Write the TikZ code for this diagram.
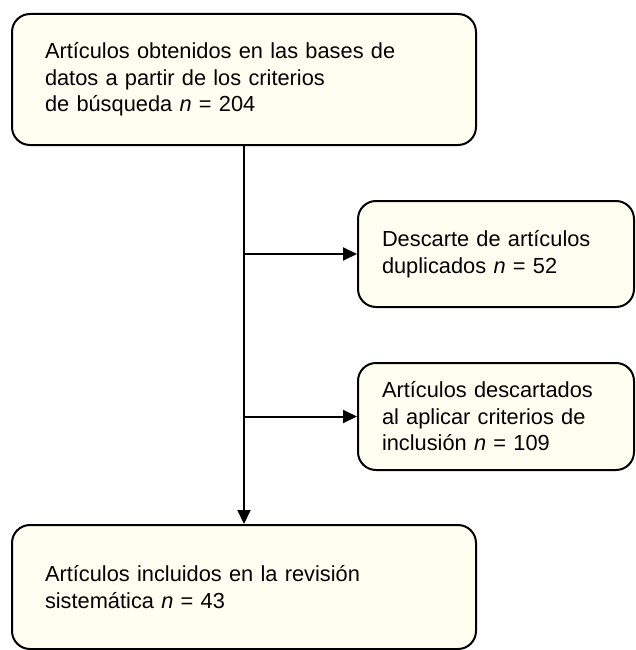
\documentclass[tikz,border=0pt]{standalone}
\usepackage{fontspec}
\setmainfont{Liberation Sans}
\usetikzlibrary{arrows.meta}
\definecolor{boxcream}{RGB}{255,255,241}

\begin{document}
\begin{tikzpicture}[x=1pt,y=-1pt,
  every node/.style={font=\fontsize{21.8}{26.5}\selectfont},
  >={Triangle[length=14pt,width=13pt]},
  wide/.style={draw,line width=2pt,rounded corners=18pt,fill=boxcream,text width=398pt,inner xsep=33pt,inner ysep=0pt,align=left},
  side/.style={draw,line width=2pt,rounded corners=18pt,fill=boxcream,text width=228pt,inner xsep=24pt,inner ysep=0pt,align=left}
]
\useasboundingbox (0,0) rectangle (635,650);
\node[wide,minimum height=131pt] (src) at (244,79.5) {Artículos obtenidos en las bases de\\datos a partir de los criterios\\de búsqueda \textit{n} = 204};
\node[side,minimum height=106pt] (dup) at (496,254) {Descarte de artículos\\duplicados \textit{n} = 52};
\node[side,minimum height=107pt] (exc) at (496,416.5) {Artículos descartados\\al aplicar criterios de\\inclusión \textit{n} = 109};
\node[wide,minimum height=124pt] (inc) at (244,587) {Artículos incluidos en la revisión\\sistemática \textit{n} = 43};

\coordinate (b1) at (src.south |- dup.west);
\coordinate (b2) at (src.south |- exc.west);
\draw[->,line width=2pt] (src) -- (inc);
\draw[->,line width=2pt] (b1) -- (dup);
\draw[->,line width=2pt] (b2) -- (exc);
\end{tikzpicture}
\end{document}
